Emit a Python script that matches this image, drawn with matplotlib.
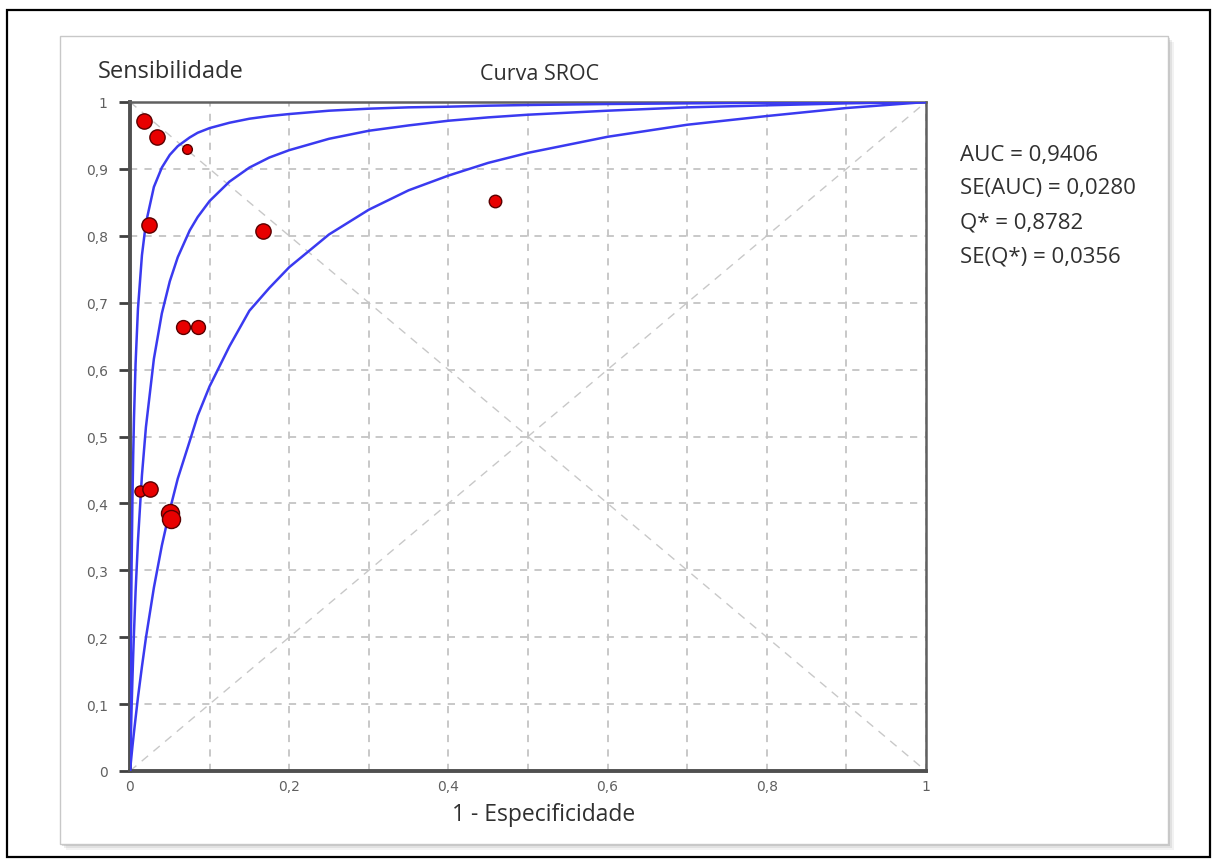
import matplotlib
matplotlib.use("Agg")
import matplotlib.pyplot as plt
from matplotlib.patches import Rectangle

# estudos (1 - especificidade, sensibilidade), tamanho do marcador
fpr = [0.018, 0.034, 0.072, 0.024, 0.167, 0.067, 0.085, 0.459, 0.012, 0.025, 0.050, 0.051]
tpr = [0.972, 0.948, 0.930, 0.816, 0.807, 0.664, 0.664, 0.852, 0.418, 0.421, 0.386, 0.376]
msize = [11, 11, 7, 11, 11, 10, 10, 9, 8, 11, 13, 13]

# curvas SROC (superior, central, inferior)
curve_x = [0.0, 0.0001, 0.0002, 0.0003, 0.0005, 0.001, 0.002, 0.003, 0.004, 0.005, 0.007,
           0.01, 0.015, 0.02, 0.03, 0.04, 0.05, 0.06, 0.075, 0.085, 0.1, 0.125, 0.15, 0.175,
           0.2, 0.25, 0.3, 0.35, 0.4, 0.45, 0.5, 0.6, 0.7, 0.8, 0.9, 1.0]
sroc_upper = [0.0, 0.022, 0.042, 0.062, 0.10, 0.181, 0.307, 0.40, 0.471, 0.527, 0.609,
              0.691, 0.771, 0.819, 0.873, 0.902, 0.921, 0.934, 0.947, 0.954, 0.961, 0.969,
              0.975, 0.979, 0.982, 0.987, 0.990, 0.992, 0.993, 0.9945, 0.9955, 0.997, 0.998,
              0.999, 0.9995, 1.0]
sroc_mid = [0.0, 0.005, 0.010, 0.015, 0.025, 0.049, 0.094, 0.135, 0.173, 0.207, 0.268,
            0.344, 0.442, 0.514, 0.616, 0.684, 0.732, 0.768, 0.808, 0.828, 0.852, 0.881,
            0.902, 0.917, 0.928, 0.945, 0.957, 0.965, 0.972, 0.977, 0.981, 0.987, 0.992,
            0.995, 0.998, 1.0]
sroc_lower = [0.0, 0.0012, 0.0024, 0.0036, 0.006, 0.012, 0.024, 0.036, 0.047, 0.058, 0.079,
              0.110, 0.156, 0.199, 0.274, 0.337, 0.390, 0.437, 0.493, 0.531, 0.575, 0.635,
              0.688, 0.722, 0.753, 0.802, 0.839, 0.868, 0.890, 0.909, 0.924, 0.948, 0.966,
              0.979, 0.991, 1.0]

stats = ["AUC = 0,9406", "SE(AUC) = 0,0280", "Q* = 0,8782", "SE(Q*) = 0,0356"]

W, H = 1214, 862
fig = plt.figure(figsize=(W / 100, H / 100), dpi=100)

# moldura externa
fig.patches.append(Rectangle((7 / W, 1 - 858 / H), 1203 / W, 847 / H, transform=fig.transFigure,
                             fill=False, edgecolor="black", linewidth=1.6, zorder=0))
# sombra do painel
for off, a in [(6, 0.10), (4, 0.15), (2, 0.25)]:
    fig.patches.append(Rectangle(((60 + off) / W, 1 - (845 + off) / H), 1108 / W, 808 / H,
                                 transform=fig.transFigure, facecolor="#808080", edgecolor="none",
                                 alpha=a, zorder=0))
fig.patches.append(Rectangle((60 / W, 1 - 845 / H), 1108 / W, 808 / H, transform=fig.transFigure,
                             facecolor="white", edgecolor="#c8c8c8", linewidth=1, zorder=0))

ax = fig.add_axes([130 / W, 1 - 772 / H, 796 / W, 669 / H])
ax.set_zorder(2)
ax.set_facecolor("white")
ax.set_xlim(0, 1)
ax.set_ylim(0, 1)

ax.plot([0, 1], [0, 1], ls=(0, (6, 5)), color="#c8c8c8", lw=1, zorder=1)
ax.plot([0, 1], [1, 0], ls=(0, (6, 5)), color="#c8c8c8", lw=1, zorder=1)

for y in (sroc_upper, sroc_mid, sroc_lower):
    ax.plot(curve_x, y, color="#3a3af0", lw=1.8, zorder=3)

for x, y, s in zip(fpr, tpr, msize):
    ax.plot(x, y, "o", ms=s, color="#e80000", mec="#5a0000", mew=1, zorder=4)

ax.set_xticks([i / 10 for i in range(11)], minor=True)
ax.set_xticks([0, 0.2, 0.4, 0.6, 0.8, 1.0])
ax.set_xticklabels(["0", "0,2", "0,4", "0,6", "0,8", "1"])
ax.set_yticks([i / 10 for i in range(11)])
ax.set_yticklabels(["0", "0,1", "0,2", "0,3", "0,4", "0,5", "0,6", "0,7", "0,8", "0,9", "1"])
ax.grid(True, which="both", ls=(0, (4, 4)), color="#c4c4c4", lw=1.3, zorder=0)
ax.tick_params(axis="x", which="both", length=0, pad=6, labelsize=10, labelcolor="#606060")
ax.tick_params(axis="y", length=8, width=2, color="#404040", pad=8, labelsize=10,
               labelcolor="#606060")

for side in ("left", "bottom"):
    ax.spines[side].set_linewidth(2.8)
    ax.spines[side].set_color("#505050")
for side in ("top", "right"):
    ax.spines[side].set_linewidth(1.8)
    ax.spines[side].set_color("#606060")

font = "Open Sans"
fig.text(98 / W, 1 - 72 / H, "Sensibilidade", fontsize=17, family=font, color="#303030", va="center")
fig.text(540 / W, 1 - 75 / H, "Curva SROC", fontsize=15.5, family=font, color="#303030",
         ha="center", va="center")
fig.text(544 / W, 1 - 815 / H, "1 - Especificidade", fontsize=16.5, family=font, color="#303030",
         ha="center", va="center")
for i, s in enumerate(stats):
    fig.text(960 / W, 1 - (155 + 34 * i) / H, s, fontsize=16, family=font, color="#303030",
             va="center")

fig.savefig("out.png", dpi=100)
